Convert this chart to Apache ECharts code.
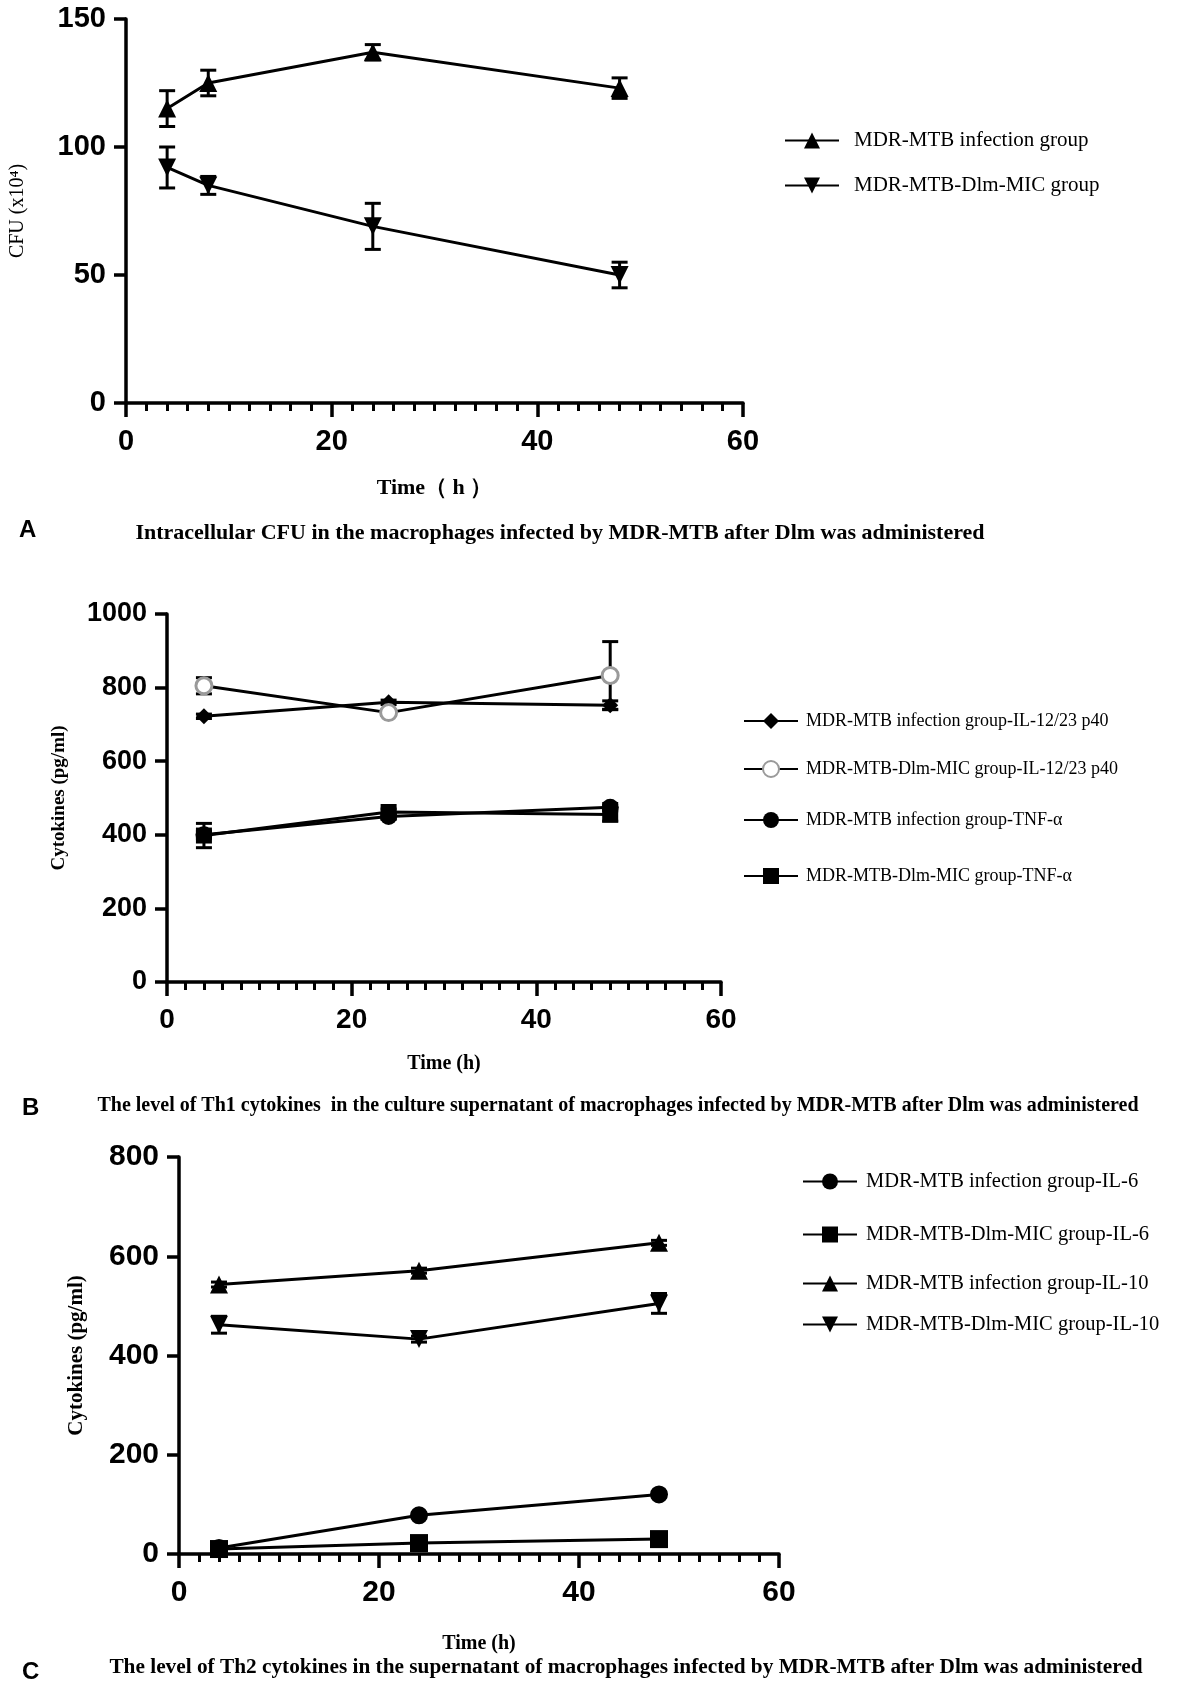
<!DOCTYPE html>
<html><head><meta charset="utf-8">
<script src="https://cdn.jsdelivr.net/npm/echarts@6/dist/echarts.min.js"></script>
<style>html,body{margin:0;padding:0;background:#fff}#c{width:1177px;height:1684px}</style>
</head><body><div id="c"></div>
<script>
// ---- Panel A data ----
const timesA = [4, 8, 24, 48];
const cfuInfection = [115, 125, 137, 123];
const cfuInfectionErr = [7, 5, 3, 4];
const cfuDlm = [92, 85, 69, 50];
const cfuDlmErr = [8, 3.5, 9, 5];

// ---- Panel B data ----
const timesB = [4, 24, 48];
const il12Infection = [722, 760, 752];
const il12InfectionErr = [6, 6, 12];
const il12Dlm = [805, 732, 833];
const il12DlmErr = [22, 8, 92];
const tnfInfection = [400, 450, 475];
const tnfInfectionErr = [10, 8, 10];
const tnfDlm = [398, 462, 455];
const tnfDlmErr = [33, 8, 18];

// ---- Panel C data ----
const timesC = [4, 24, 48];
const il6Infection = [12, 78, 120];
const il6InfectionErr = [5, 5, 5];
const il6Dlm = [10, 22, 30];
const il6DlmErr = [4, 4, 4];
const il10Infection = [543, 571, 627];
const il10InfectionErr = [5, 5, 5];
const il10Dlm = [462, 433, 505];
const il10DlmErr = [17, 6, 20];

const tickFont = '"Liberation Sans", Arial, sans-serif';
const serif = '"Liberation Serif", "Times New Roman", serif';

function pairs(xs, ys) { return xs.map((x, i) => [x, ys[i]]); }
function errData(xs, ys, es) { return xs.map((x, i) => [x, ys[i] - es[i], ys[i] + es[i]]); }

function errRender(params, api) {
  const x = api.value(0), lo = api.value(1), hi = api.value(2);
  const a = api.coord([x, lo]), b = api.coord([x, hi]);
  const w = 8;
  const st = { stroke: '#000', lineWidth: 3 };
  return { type: 'group', children: [
    { type: 'line', shape: { x1: a[0], y1: a[1], x2: b[0], y2: b[1] }, style: st },
    { type: 'line', shape: { x1: a[0] - w, y1: a[1], x2: a[0] + w, y2: a[1] }, style: st },
    { type: 'line', shape: { x1: b[0] - w, y1: b[1], x2: b[0] + w, y2: b[1] }, style: st }
  ]};
}

function xAxis(grid, name, gap, fs, nameFs) {
  return {
    type: 'value', gridIndex: grid, min: 0, max: 60, interval: 20,
    name: name, nameLocation: 'middle', nameGap: gap,
    nameTextStyle: { fontFamily: serif, fontWeight: 'bold', fontSize: nameFs, color: '#000' },
    axisLine: { show: true, onZero: false, lineStyle: { color: '#000', width: 3.5 } },
    axisTick: { show: true, inside: false, length: 14, lineStyle: { color: '#000', width: 3.5 } },
    minorTick: { show: true, splitNumber: 10, length: 8, lineStyle: { color: '#000', width: 3 } },
    axisLabel: { margin: 24, fontFamily: tickFont, fontWeight: 'bold', fontSize: fs, color: '#000',
      formatter: v => String(v) },
    splitLine: { show: false }
  };
}
function yAxis(grid, max, interval, name, gap, fs, nameFs, nameBold) {
  return {
    type: 'value', gridIndex: grid, min: 0, max: max, interval: interval,
    name: name, nameLocation: 'middle', nameGap: gap,
    nameTextStyle: { fontFamily: serif, fontWeight: nameBold ? 'bold' : 'normal', fontSize: nameFs, color: '#000' },
    axisLine: { show: true, onZero: false, lineStyle: { color: '#000', width: 3.5 } },
    axisTick: { show: true, inside: false, length: 12, lineStyle: { color: '#000', width: 3.5 } },
    axisLabel: { margin: 20, fontFamily: tickFont, fontWeight: 'bold', fontSize: fs, color: '#000',
      formatter: v => String(v) },
    splitLine: { show: false }
  };
}

function lineSeries(name, xi, xs, ys, symbol, size, rotate, itemStyle) {
  return {
    name: name, type: 'line', xAxisIndex: xi, yAxisIndex: xi,
    data: pairs(xs, ys), symbol: symbol, symbolSize: size, symbolRotate: rotate || 0,
    showAllSymbol: true,
    lineStyle: { color: '#000', width: 3 },
    itemStyle: itemStyle || { color: '#000', borderColor: '#000', borderWidth: 0 },
    z: 3, animation: false
  };
}
function errSeries(xi, xs, ys, es) {
  return { type: 'custom', xAxisIndex: xi, yAxisIndex: xi, renderItem: errRender,
    data: errData(xs, ys, es), encode: { x: 0, y: [1, 2] }, z: 2, silent: true, animation: false };
}

const nA1 = 'MDR-MTB infection group', nA2 = 'MDR-MTB-Dlm-MIC group';
const nB1 = 'MDR-MTB infection group-IL-12/23 p40', nB2 = 'MDR-MTB-Dlm-MIC group-IL-12/23 p40';
const nB3 = 'MDR-MTB infection group-TNF-α', nB4 = 'MDR-MTB-Dlm-MIC group-TNF-α';
const nC1 = 'MDR-MTB infection group-IL-6', nC2 = 'MDR-MTB-Dlm-MIC group-IL-6';
const nC3 = 'MDR-MTB infection group-IL-10', nC4 = 'MDR-MTB-Dlm-MIC group-IL-10';

const grayStyle = { color: '#fff', borderColor: '#9a9a9a', borderWidth: 3 };

function legend(name, left, cy, fs, pad) {
  return { data: [name], left: left, top: cy - 11, itemWidth: 54, itemHeight: 20, itemGap: 14,
    textStyle: { fontFamily: serif, fontSize: fs, color: '#000', padding: [0, 0, 0, pad] }, selectedMode: false };
}

const letterFont = 'bold 24px "Liberation Sans", Arial, sans-serif';

const chart = echarts.init(document.getElementById('c'), null, { renderer: 'canvas' });
chart.setOption({
  backgroundColor: '#fff',
  animation: false,
  grid: [
    { left: 122, top: 19, width: 621, height: 384 },
    { left: 167, top: 614, width: 554, height: 368 },
    { left: 179, top: 1157, width: 600, height: 397 }
  ],
  xAxis: [
    xAxis(0, 'Time（ h ）', 74, 29, 22),
    xAxis(1, 'Time (h)', 72, 28, 20),
    xAxis(2, 'Time (h)', 80, 30, 20)
  ],
  yAxis: [
    yAxis(0, 150, 50, 'CFU (x10⁴)', 98, 29, 20, false),
    yAxis(1, 1000, 200, 'Cytokines (pg/ml)', 98, 27, 19, true),
    yAxis(2, 800, 200, 'Cytokines (pg/ml)', 92, 30, 21, true)
  ],
  legend: [
    legend(nA1, 779, 136, 21, 10), legend(nA2, 779, 181, 21, 10),
    legend(nB1, 738, 718, 18, 3), legend(nB2, 738, 766, 18, 3), legend(nB3, 738, 817, 18, 3), legend(nB4, 738, 873, 18, 3),
    legend(nC1, 797, 1177, 20.5, 4), legend(nC2, 797, 1230, 20.5, 4), legend(nC3, 797, 1279, 20.5, 4), legend(nC4, 797, 1320, 20.5, 4)
  ],
  graphic: [
    { type: 'text', left: 19, top: 518, style: { text: 'A', font: letterFont, fill: '#000' } },
    { type: 'text', x: 560, y: 533, style: { text: 'Intracellular CFU in the macrophages infected by MDR-MTB after Dlm was administered', font: 'bold 22px ' + serif, fill: '#000', textAlign: 'center', textVerticalAlign: 'middle' } },
    { type: 'text', left: 22, top: 1096, style: { text: 'B', font: letterFont, fill: '#000' } },
    { type: 'text', x: 618, y: 1106, style: { text: 'The level of Th1 cytokines  in the culture supernatant of macrophages infected by MDR-MTB after Dlm was administered', font: 'bold 20px ' + serif, fill: '#000', textAlign: 'center', textVerticalAlign: 'middle' } },
    { type: 'text', left: 22, top: 1660, style: { text: 'C', font: letterFont, fill: '#000' } },
    { type: 'text', x: 626, y: 1667, style: { text: 'The level of Th2 cytokines in the supernatant of macrophages infected by MDR-MTB after Dlm was administered', font: 'bold 21.3px ' + serif, fill: '#000', textAlign: 'center', textVerticalAlign: 'middle' } }
  ],
  series: [
    errSeries(0, timesA, cfuInfection, cfuInfectionErr),
    errSeries(0, timesA, cfuDlm, cfuDlmErr),
    lineSeries(nA1, 0, timesA, cfuInfection, 'triangle', 18, 0),
    lineSeries(nA2, 0, timesA, cfuDlm, 'triangle', 18, 180),

    errSeries(1, timesB, il12Infection, il12InfectionErr),
    errSeries(1, timesB, il12Dlm, il12DlmErr),
    errSeries(1, timesB, tnfInfection, tnfInfectionErr),
    errSeries(1, timesB, tnfDlm, tnfDlmErr),
    lineSeries(nB1, 1, timesB, il12Infection, 'diamond', 16, 0),
    lineSeries(nB2, 1, timesB, il12Dlm, 'circle', 16, 0, grayStyle),
    lineSeries(nB3, 1, timesB, tnfInfection, 'circle', 17, 0),
    lineSeries(nB4, 1, timesB, tnfDlm, 'rect', 16, 0),

    errSeries(2, timesC, il6Infection, il6InfectionErr),
    errSeries(2, timesC, il6Dlm, il6DlmErr),
    errSeries(2, timesC, il10Infection, il10InfectionErr),
    errSeries(2, timesC, il10Dlm, il10DlmErr),
    lineSeries(nC1, 2, timesC, il6Infection, 'circle', 18, 0),
    lineSeries(nC2, 2, timesC, il6Dlm, 'rect', 18, 0),
    lineSeries(nC3, 2, timesC, il10Infection, 'triangle', 18, 0),
    lineSeries(nC4, 2, timesC, il10Dlm, 'triangle', 18, 180)
  ]
});
</script></body></html>
